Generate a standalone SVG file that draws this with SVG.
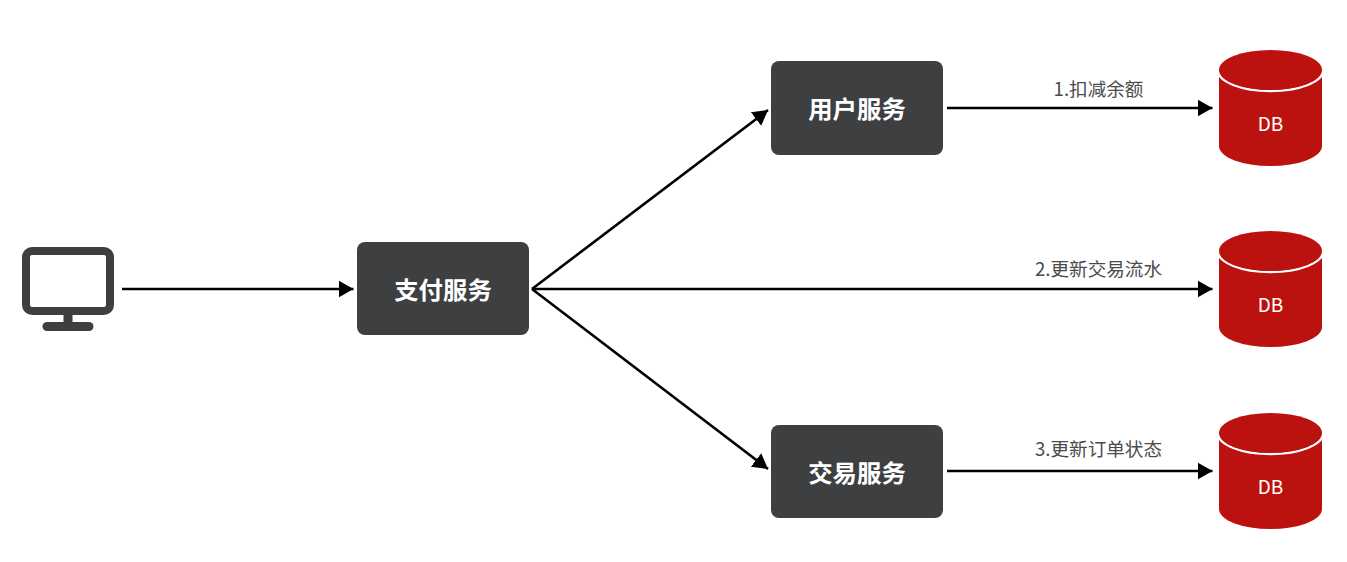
<svg xmlns="http://www.w3.org/2000/svg" width="1347" height="562" viewBox="0 0 1347 562">
<style>
.box{fill:#3e3f41}
.title{font:700 24.400px "Noto Sans CJK SC","Noto Sans",sans-serif;fill:#fff;text-anchor:middle}
.lab{font:400 18.600px "Noto Sans CJK SC","Noto Sans",sans-serif;fill:#4a4b4d;text-anchor:middle}
.db{font:400 19px "Noto Sans CJK SC","Noto Sans",sans-serif;fill:#fff;text-anchor:middle}
.conn{fill:none;stroke:#000;stroke-width:2.600;marker-end:url(#a)}
.cyl{fill:#bb1210}
.rim{fill:none;stroke:#fff;stroke-width:2.400}
</style>
<defs>
<marker id="a" markerUnits="userSpaceOnUse" markerWidth="16" markerHeight="18" refX="15" refY="8.500" orient="auto" viewBox="0 0 16 17"><path d="M0 0L15 8.500L0 17Z" fill="#000"/></marker>
<g id="cylinder">
<path class="cyl" d="M1219 75V146A51.500 20 0 0 0 1322 146V75Z"/>
<path class="rim" d="M1217.800 70A52.700 21 0 0 0 1323.200 70"/>
<ellipse class="cyl" cx="1270.500" cy="70" rx="51.500" ry="20"/>
</g>
</defs>
<rect width="1347" height="562" fill="#fff"/>
<g id="connectors">
<path class="conn" d="M122 289H353.500"/>
<path class="conn" d="M532 289L768 110"/>
<path class="conn" d="M532 289H1212.500"/>
<path class="conn" d="M532 289L768 469"/>
<path class="conn" d="M947 108H1212.500"/>
<path class="conn" d="M947 471H1212.500"/>
</g>
<g id="client">
<rect x="26" y="251" width="84" height="60" rx="6" fill="none" stroke="#3e3f41" stroke-width="8"/>
<rect x="63.500" y="314" width="9" height="10" fill="#3e3f41"/>
<rect x="42.500" y="322" width="51" height="9" rx="4.500" fill="#3e3f41"/>
</g>
<g id="pay"><rect class="box" x="357" y="242" width="172" height="93" rx="8"/><text class="title" x="443" y="299">支付服务</text></g>
<g id="user"><rect class="box" x="771" y="61" width="172" height="94" rx="8"/><text class="title" x="857" y="118">用户服务</text></g>
<g id="trade"><rect class="box" x="771" y="425" width="172" height="93" rx="8"/><text class="title" x="857" y="481.500">交易服务</text></g>
<g id="db1"><use href="#cylinder"/><text class="db" x="1270.500" y="131">DB</text></g>
<g id="db2"><use href="#cylinder" y="181"/><text class="db" x="1270.500" y="312">DB</text></g>
<g id="db3"><use href="#cylinder" y="363"/><text class="db" x="1270.500" y="494">DB</text></g>
<g id="labels">
<text class="lab" x="1098.500" y="95.500">1.扣减余额</text>
<text class="lab" x="1098.500" y="275.500">2.更新交易流水</text>
<text class="lab" x="1098.500" y="456">3.更新订单状态</text>
</g>
</svg>
